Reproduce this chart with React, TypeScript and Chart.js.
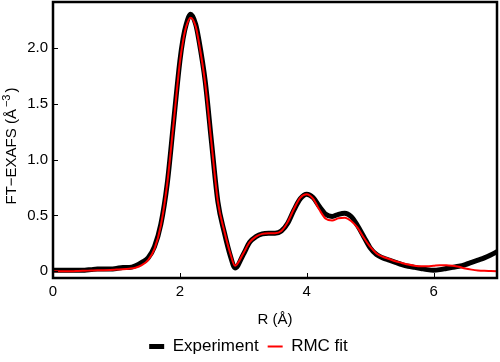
import React, { useEffect, useRef } from "react";
import { Chart, registerables } from "chart.js";

Chart.register(...registerables);

const rValues = [
  0.0, 0.1, 0.2, 0.3, 0.4, 0.5, 0.6, 0.7, 0.8, 0.9,
  1.0, 1.1, 1.2, 1.3, 1.4, 1.5, 1.6, 1.7, 1.8, 1.9,
  2.0, 2.05, 2.1, 2.17, 2.25, 2.3, 2.4, 2.5, 2.6, 2.7, 2.8, 2.87,
  3.0, 3.1, 3.2, 3.3, 3.4, 3.5, 3.6, 3.7, 3.8, 3.9,
  4.0, 4.1, 4.2, 4.3, 4.4, 4.5, 4.6, 4.7, 4.8, 4.9,
  5.0, 5.1, 5.2, 5.3, 5.4, 5.5, 5.6, 5.7, 5.8, 5.9,
  6.0, 6.1, 6.2, 6.3, 6.4, 6.5, 6.6, 6.7, 6.8, 6.9, 7.0,
];

const experiment = [
  0.01, 0.01, 0.01, 0.01, 0.01, 0.01, 0.015, 0.02, 0.02, 0.02,
  0.025, 0.035, 0.035, 0.05, 0.08, 0.12, 0.22, 0.42, 0.78, 1.33,
  1.88, 2.08, 2.21, 2.3, 2.21, 2.07, 1.7, 1.15, 0.62, 0.35, 0.13, 0.03,
  0.15, 0.26, 0.31, 0.335, 0.34, 0.34, 0.36, 0.43, 0.55, 0.65,
  0.69, 0.66, 0.58, 0.51, 0.49, 0.51, 0.52, 0.49, 0.41, 0.31,
  0.21, 0.15, 0.12, 0.1, 0.08, 0.06, 0.045, 0.035, 0.025, 0.015,
  0.01, 0.015, 0.025, 0.035, 0.045, 0.06, 0.08, 0.1, 0.12, 0.145, 0.175,
];

const rmcFit = [
  0.0, 0.0, 0.0, 0.0, 0.003, 0.005, 0.007, 0.009, 0.01, 0.012,
  0.015, 0.018, 0.023, 0.032, 0.055, 0.1, 0.2, 0.41, 0.78, 1.32,
  1.87, 2.06, 2.19, 2.27, 2.19, 2.05, 1.68, 1.14, 0.62, 0.36, 0.15, 0.05,
  0.16, 0.26, 0.31, 0.335, 0.34, 0.34, 0.36, 0.44, 0.56, 0.66,
  0.69, 0.65, 0.55, 0.47, 0.455, 0.475, 0.48, 0.45, 0.39, 0.3,
  0.22, 0.16, 0.13, 0.11, 0.09, 0.075, 0.06, 0.05, 0.045, 0.045,
  0.05, 0.055, 0.055, 0.05, 0.04, 0.025, 0.015, 0.008, 0.004, 0.002, 0.0,
];

const xTicks = [0, 2, 4, 6];
const yTicks = [0, 0.5, 1.0, 1.5, 2.0];
const yTitleMain = "FT−EXAFS (Å";
const yTitleSup = "−3";
const yTitleEnd = ")";

const FONT = "'Liberation Sans', Arial, sans-serif";

const framePlugin = {
  id: "frameTicks",
  afterDraw(chart: any) {
    const { ctx, chartArea, scales } = chart;
    const { left, right, top, bottom } = chartArea;
    ctx.save();
    ctx.strokeStyle = "#000";
    ctx.lineWidth = 1;
    ctx.beginPath();
    for (const v of xTicks) {
      const px = Math.round(scales.x.getPixelForValue(v)) + 0.5;
      ctx.moveTo(px, bottom);
      ctx.lineTo(px, bottom - 5);
    }
    for (const v of yTicks) {
      const py = Math.round(scales.y.getPixelForValue(v)) + 0.5;
      ctx.moveTo(left, py);
      ctx.lineTo(left + 5, py);
    }
    ctx.stroke();
    ctx.lineWidth = 2.5;
    ctx.strokeRect(left, top, right - left, bottom - top);

    // y-axis title with superscript
    ctx.fillStyle = "#000";
    ctx.textBaseline = "middle";
    ctx.textAlign = "left";
    const mainFont = `15px ${FONT}`;
    const supFont = `11px ${FONT}`;
    ctx.font = mainFont;
    const w1 = ctx.measureText(yTitleMain).width;
    const w3 = ctx.measureText(yTitleEnd).width;
    ctx.font = supFont;
    const w2 = ctx.measureText(yTitleSup).width;
    const gap = 2;
    const total = w1 + gap + w2 + gap + w3;
    ctx.translate(12, 146);
    ctx.rotate(-Math.PI / 2);
    let x0 = -total / 2;
    ctx.font = mainFont;
    ctx.fillText(yTitleMain, x0, 0);
    x0 += w1 + gap;
    ctx.font = supFont;
    ctx.fillText(yTitleSup, x0, -5);
    x0 += w2 + gap;
    ctx.font = mainFont;
    ctx.fillText(yTitleEnd, x0, 0);
    ctx.restore();
  },
};

export default function App() {
  const canvasRef = useRef<HTMLCanvasElement | null>(null);

  useEffect(() => {
    document.body.style.margin = "0";
    const canvas = canvasRef.current;
    if (!canvas) return;
    const chart = new Chart(canvas, {
      type: "line",
      data: {
        datasets: [
          {
            label: "RMC fit",
            data: rValues.map((r, i) => ({ x: r, y: rmcFit[i] })),
            borderColor: "#ff0000",
            backgroundColor: "#ff0000",
            borderWidth: 2,
            pointRadius: 0,
            cubicInterpolationMode: "monotone",
            fill: false,
          },
          {
            label: "Experiment",
            data: rValues.map((r, i) => ({ x: r, y: experiment[i] })),
            borderColor: "#000000",
            backgroundColor: "#000000",
            borderWidth: 5,
            pointRadius: 0,
            cubicInterpolationMode: "monotone",
            fill: false,
          },
        ],
      },
      options: {
        animation: false,
        responsive: false,
        maintainAspectRatio: false,
        layout: { padding: { top: 2, right: 3, left: 0, bottom: -3 } },
        plugins: {
          tooltip: { enabled: false },
          legend: {
            position: "bottom",
            labels: {
              usePointStyle: true,
              pointStyle: "line",
              pointStyleWidth: 15,
              boxHeight: 17,
              color: "#000",
              font: { family: FONT, size: 17 },
              padding: 9,
              sort: (a: any, b: any) => b.datasetIndex - a.datasetIndex,
            },
          },
        },
        scales: {
          x: {
            type: "linear",
            min: 0,
            max: 7,
            afterBuildTicks: (scale: any) => {
              scale.ticks = xTicks.map((v) => ({ value: v }));
            },
            afterFit: (scale: any) => {
              scale.height = 51;
              scale.paddingLeft = 0;
              scale.paddingRight = 0;
            },
            grid: { display: false, drawTicks: false },
            border: { display: false },
            ticks: {
              padding: 5,
              color: "#000",
              font: { family: FONT, size: 15 },
              maxRotation: 0,
              callback: (v: any) => String(v),
            },
            title: {
              display: true,
              text: "R (Å)",
              color: "#000",
              font: { family: FONT, size: 15 },
              padding: { top: 3, bottom: 0 },
            },
          },
          y: {
            type: "linear",
            min: -0.06,
            max: 2.41,
            afterBuildTicks: (scale: any) => {
              scale.ticks = yTicks.map((v) => ({ value: v }));
            },
            afterFit: (scale: any) => {
              scale.width = 53;
              scale.paddingTop = 0;
              scale.paddingBottom = 0;
            },
            grid: { display: false, drawTicks: false },
            border: { display: false },
            ticks: {
              padding: 5,
              color: "#000",
              font: { family: FONT, size: 15 },
              callback: (v: any) => (Number(v) === 0 ? "0" : Number(v).toFixed(1)),
            },
            title: { display: false },
          },
        },
      },
      plugins: [framePlugin],
    } as any);
    return () => chart.destroy();
  }, []);

  return <canvas ref={canvasRef} width={500} height={362} style={{ display: "block" }} />;
}
